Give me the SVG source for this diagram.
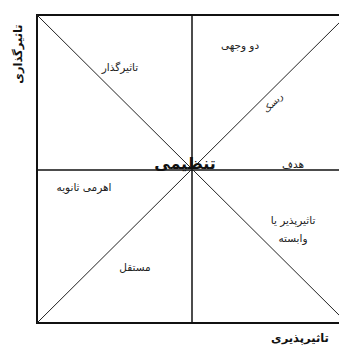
<svg xmlns="http://www.w3.org/2000/svg" width="339" height="346" viewBox="0 0 339 346">
<style>
.t{font-family:"DejaVu Sans",sans-serif;font-size:10.5px;fill:#222;text-anchor:middle}
.b{font-weight:bold;fill:#111}
.s{font-size:9px}
.big{font-size:16px}
.ax{font-size:11.5px}
.frame{fill:none;stroke:#111;stroke-width:2}
.mid{stroke:#111;stroke-width:1.5}
.diag{stroke:#222;stroke-width:1}
</style>
<rect width="339" height="346" fill="#fff"/>
<g id="connectors">
<rect class="frame" x="37" y="15" width="312" height="308"/>
<line class="mid" x1="192" y1="15" x2="192" y2="323"/>
<line class="mid" x1="37" y1="170" x2="349" y2="170"/>
<line class="diag" x1="37" y1="15" x2="347" y2="323"/>
<line class="diag" x1="37" y1="323" x2="347" y2="15"/>
</g>
<g id="n-influential"><text class="t" x="120" y="71">تاثیرگذار</text></g>
<g id="n-dual"><text class="t" x="240" y="49">دو وجهی</text></g>
<g id="n-risk"><text class="t s" x="273" y="106" transform="rotate(-45 273 103)">ریسک</text></g>
<g id="n-target"><text class="t" x="293" y="168">هدف</text></g>
<g id="n-regulatory"><text class="t b big" x="185" y="169">تنظیمی</text></g>
<g id="n-secondary"><text class="t" x="84" y="191">اهرمی ثانویه</text></g>
<g id="n-independent"><text class="t" x="135" y="271">مستقل</text></g>
<g id="n-dependent"><text class="t" x="293" y="224">تاثیرپذیر یا</text><text class="t" x="293" y="242">وابسته</text></g>
<g id="axis-y"><text class="t b ax" x="18" y="54" transform="rotate(-90 18 54)" dy="4">تاثیرگذاری</text></g>
<g id="axis-x"><text class="t b ax" x="300" y="342">تاثیرپذیری</text></g>
</svg>
